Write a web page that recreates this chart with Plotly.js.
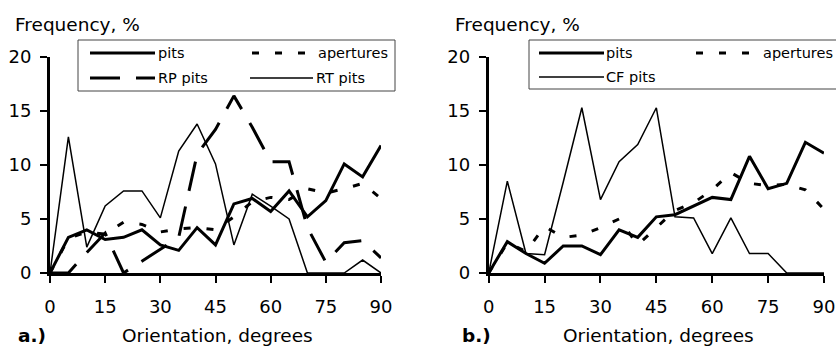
<!DOCTYPE html>
<html>
<head>
<meta charset="utf-8">
<script src="https://cdn.plot.ly/plotly-3.0.1.min.js"></script>
<style>
  html, body { margin: 0; padding: 0; background: #fff; }
  #chart { width: 836px; height: 346px; }
</style>
</head>
<body>
<div id="chart"></div>
<script>
// Orientation classes (degrees)
const angles = [0, 5, 10, 15, 20, 25, 30, 35, 40, 45, 50, 55, 60, 65, 70, 75, 80, 85, 90];

// Panel a.) frequencies, %
const pitsA      = [0, 3.3, 4.0, 3.1, 3.3, 4.0, 2.6, 2.1, 4.2, 2.6, 6.4, 6.9, 5.7, 7.6, 5.2, 6.7, 10.1, 8.9, 11.8];
const aperturesA = [0, 3.2, 3.8, 3.6, 4.7, 4.5, 3.8, 4.1, 4.2, 4.0, 5.2, 6.6, 7.0, 6.8, 7.8, 7.4, 7.8, 8.3, 6.9];
const rpPitsA    = [0, 0, 1.9, 3.7, 0, 1.1, 2.2, 3.3, 11.0, 13.3, 16.4, 13.5, 10.3, 10.3, 4.2, 1.0, 2.8, 3.0, 1.4];
const rtPitsA    = [0, 12.6, 2.4, 6.2, 7.6, 7.6, 5.1, 11.3, 13.8, 10.1, 2.6, 7.3, 6.2, 5.0, 0, 0, 0, 1.2, 0];

// Panel b.) frequencies, %
const pitsB      = [0, 2.9, 1.8, 0.9, 2.5, 2.5, 1.7, 4.0, 3.3, 5.2, 5.4, 6.2, 7.0, 6.8, 10.8, 7.8, 8.3, 12.1, 11.1];
const aperturesB = [0, 2.8, 2.0, 4.3, 3.3, 3.5, 4.2, 5.0, 2.6, 4.2, 5.8, 6.5, 7.7, 9.3, 8.3, 8.1, 8.2, 7.7, 5.9];
const cfPitsB    = [0, 8.5, 1.8, 1.7, 8.4, 15.3, 6.8, 10.3, 11.9, 15.3, 5.2, 5.1, 1.8, 5.1, 1.8, 1.8, 0, 0, 0];

// Labels
const xTickVals = [0, 15, 30, 45, 60, 75, 90];
const yTickVals = [0, 5, 10, 15, 20];
const seriesNamesA = ['pits', 'apertures', 'RP pits', 'RT pits'];
const seriesNamesB = ['pits', 'apertures', 'CF pits'];
const yTitle = 'Frequency, %';
const xTitle = 'Orientation, degrees';
const panelLabels = ['a.)', 'b.)'];

const W = 836, H = 346;
const px = v => v / W;
const py = v => 1 - v / H;

const FONT = 'DejaVu Sans, Liberation Sans, Arial, sans-serif';
const FS_TICK = 18;
const FS_TITLE = 18.5;
const FS_LEG = 14.5;

// Line styles
const styles = {
  pits:      { color: '#000', width: 3,   dash: 'solid' },
  apertures: { color: '#000', width: 3,   dash: '7px,16px' },
  rp:        { color: '#000', width: 3,   dash: '30px,16px' },
  thin:      { color: '#000', width: 1.5, dash: 'solid' }
};

function tr(y, name, st, xa, ya) {
  return { x: angles, y: y, name: name, type: 'scatter', mode: 'lines',
           line: Object.assign({}, st), xaxis: xa, yaxis: ya,
           showlegend: false, hoverinfo: 'skip' };
}

const data = [
  tr(rtPitsA, seriesNamesA[3], styles.thin, 'x', 'y'),
  tr(rpPitsA, seriesNamesA[2], styles.rp, 'x', 'y'),
  tr(aperturesA, seriesNamesA[1], styles.apertures, 'x', 'y'),
  tr(pitsA, seriesNamesA[0], styles.pits, 'x', 'y'),
  tr(cfPitsB, seriesNamesB[2], styles.thin, 'x2', 'y2'),
  tr(aperturesB, seriesNamesB[1], styles.apertures, 'x2', 'y2'),
  tr(pitsB, seriesNamesB[0], styles.pits, 'x2', 'y2')
];

const yDom = [1 - 273 / H, 1 - 57 / H];

function xAxis(dom, anchor) {
  return {
    domain: dom, anchor: anchor, range: [0, 90], fixedrange: true,
    tickvals: xTickVals, ticks: 'outside', ticklen: 7, tickwidth: 2, tickcolor: '#000',
    showline: true, linewidth: 3, linecolor: '#000',
    showgrid: false, zeroline: false, ticklabelstandoff: 8,
    tickfont: { family: FONT, size: FS_TICK, color: '#000' }
  };
}
function yAxis(anchor) {
  return {
    domain: yDom, anchor: anchor, range: [0, 20], fixedrange: true,
    tickvals: yTickVals, ticks: 'outside', ticklen: 7, tickwidth: 2, tickcolor: '#000',
    showline: true, linewidth: 3, linecolor: '#000',
    showgrid: false, zeroline: false, ticklabelstandoff: 5,
    tickfont: { family: FONT, size: FS_TICK, color: '#000' }
  };
}

const shapes = [];
const annotations = [];

function text(str, x, y, size, opts) {
  annotations.push(Object.assign({
    text: str, xref: 'paper', yref: 'paper', x: px(x), y: py(y),
    xanchor: 'left', yanchor: 'middle', showarrow: false,
    font: { family: FONT, size: size, color: '#000' }
  }, opts || {}));
}
function sample(x0, x1, y, st) {
  shapes.push({ type: 'line', xref: 'paper', yref: 'paper',
    x0: px(x0), x1: px(x1), y0: py(y), y1: py(y),
    line: { color: st.color, width: st.width, dash: st.dash } });
}
function box(x0, x1, y0, y1) {
  shapes.push({ type: 'rect', xref: 'paper', yref: 'paper',
    x0: px(x0), x1: px(x1), y0: py(y0), y1: py(y1),
    line: { color: '#444', width: 1 }, fillcolor: 'rgba(255,255,255,0)' });
}

// Legend, panel a
box(78, 395, 40, 91);
sample(90, 155, 53, styles.pits);       text(seriesNamesA[0], 156, 53, FS_LEG);
sample(252, 308, 53, styles.apertures); text(seriesNamesA[1], 316, 53, FS_LEG);
sample(90, 155, 78, styles.rp);         text(seriesNamesA[2], 156, 78, FS_LEG);
sample(250, 313, 78, styles.thin);      text(seriesNamesA[3], 314, 78, FS_LEG);

// Legend, panel b
box(529, 840, 40, 89);
sample(539, 604, 53, styles.pits);      text(seriesNamesB[0], 604, 53, FS_LEG);
sample(696, 752, 53, styles.apertures); text(seriesNamesB[1], 761, 53, FS_LEG);
sample(539, 604, 77, styles.thin);      text(seriesNamesB[2], 604, 77, FS_LEG);

// Axis titles and panel labels
text(yTitle, 13, 25, FS_TITLE);
text(yTitle, 453, 25, FS_TITLE);
text(xTitle, 217, 335, FS_TITLE, { xanchor: 'center' });
text(xTitle, 658, 335, FS_TITLE, { xanchor: 'center' });
text('<b>' + panelLabels[0] + '</b>', 16, 335, FS_TITLE);
text('<b>' + panelLabels[1] + '</b>', 460, 335, FS_TITLE);

const layout = {
  width: W, height: H,
  margin: { l: 0, r: 0, t: 0, b: 0 },
  paper_bgcolor: '#fff', plot_bgcolor: '#fff',
  showlegend: false,
  xaxis: xAxis([50 / W, 381 / W], 'y'),
  yaxis: yAxis('x'),
  xaxis2: xAxis([488.7 / W, 824 / W], 'y2'),
  yaxis2: yAxis('x2'),
  shapes: shapes,
  annotations: annotations
};

Plotly.newPlot('chart', data, layout, { staticPlot: true, displayModeBar: false });
</script>
</body>
</html>
